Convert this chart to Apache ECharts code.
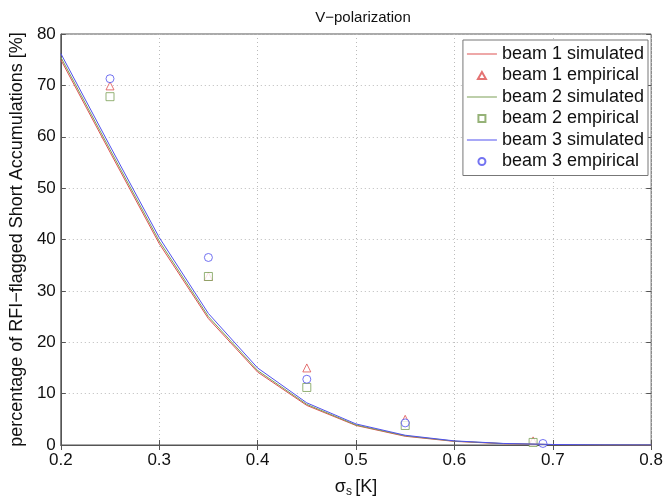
<!DOCTYPE html>
<html>
<head>
<meta charset="utf-8">
<script src="https://cdn.jsdelivr.net/npm/echarts@6/dist/echarts.min.js"></script>
<style>
  html, body { margin: 0; padding: 0; background: #fff; }
  #chart { width: 666px; height: 503px; }
</style>
</head>
<body>
<div id="chart"></div>
<script>
// simulated curves, sampled every 0.05 K
const sigma = [0.2, 0.25, 0.3, 0.35, 0.4, 0.45, 0.5, 0.55, 0.6, 0.65, 0.7, 0.75, 0.8];
const beam1Sim = [75.0, 57.0, 39.2, 24.6, 14.2, 7.7, 3.8, 1.7, 0.7, 0.25, 0.08, 0.02, 0];
const beam2Sim = [75.5, 57.5, 39.7, 25.0, 14.5, 7.9, 3.9, 1.8, 0.75, 0.28, 0.09, 0.03, 0.01];
const beam3Sim = [76.2, 58.2, 40.4, 25.6, 15.0, 8.2, 4.1, 1.9, 0.8, 0.3, 0.1, 0.03, 0.01];

// empirical points
const beam1EmpX = [0.25, 0.35, 0.45, 0.55, 0.68];
const beam1Emp = [69.9, 32.8, 15.0, 5.0, 0.8];
const beam2EmpX = [0.25, 0.35, 0.45, 0.55, 0.68];
const beam2Emp = [67.8, 32.8, 11.2, 3.8, 0.5];
const beam3EmpX = [0.25, 0.35, 0.45, 0.55, 0.69];
const beam3Emp = [71.3, 36.5, 12.8, 4.3, 0.3];

const names = ['beam 1 simulated', 'beam 1 empirical', 'beam 2 simulated',
               'beam 2 empirical', 'beam 3 simulated', 'beam 3 empirical'];

const red = '#dd5050';
const green = '#7a9f55';
const blue = '#5050ee';
const font = 'Liberation Sans';

// legend icons as paths so they keep their aspect ratio
const lineIcon = 'path://M0,0L30,0L30,1L0,1Z';
const triIcon = 'path://M4,0L8,7L0,7Z';
const rectIcon = 'path://M0,0L6,0L6,6L0,6Z';
const circIcon = 'path://M4,0A4,4,0,1,1,4,8A4,4,0,1,1,4,0Z';
const legendIcons = [lineIcon, triIcon, lineIcon, rectIcon, lineIcon, circIcon];

function pairs(xs, ys) {
  return xs.map((x, i) => [x, ys[i]]);
}

function simSeries(name, ys, color) {
  return {
    name: name, type: 'line', data: pairs(sigma, ys),
    symbol: 'none', lineStyle: { color: color, width: 1 },
    itemStyle: { color: color }, animation: false
  };
}

function empSeries(name, xs, ys, symbol, color) {
  return {
    name: name, type: 'scatter', data: pairs(xs, ys),
    symbol: symbol, symbolSize: 8,
    itemStyle: { color: '#fff', borderColor: color, borderWidth: 1 },
    animation: false
  };
}

const chart = echarts.init(document.getElementById('chart'));
chart.setOption({
  textStyle: { fontFamily: font },
  title: {
    text: 'V\u2212polarization', left: 358, top: 5, textAlign: 'center',
    textStyle: { fontFamily: font, fontSize: 15, fontWeight: 'normal', color: '#111' }
  },
  legend: {
    right: 18, top: 40, orient: 'vertical', align: 'left',
    itemWidth: 30, itemHeight: 7, itemGap: 3.5,
    symbolKeepAspect: true,
    padding: [5, 4, 5, 4],
    borderColor: '#777', borderWidth: 1, backgroundColor: '#fff',
    textStyle: { fontFamily: font, fontSize: 18, color: '#111' },
    data: names.map((n, i) => ({ name: n, icon: legendIcons[i] }))
  },
  grid: { left: 60, right: 14, top: 34, bottom: 54, show: true, borderColor: '#555', borderWidth: 1 },
  xAxis: [{
    type: 'value', min: 0.2, max: 0.8, interval: 0.1,
    name: '{s|\u03c3}{sub|s} {s|[K]}', nameLocation: 'middle', nameGap: 31,
    nameTextStyle: {
      rich: {
        s: { fontFamily: font, fontSize: 18, color: '#111' },
        sub: { fontFamily: font, fontSize: 12, color: '#111', verticalAlign: 'bottom', padding: [10, 0, 0, 0] }
      }
    },
    axisLine: { lineStyle: { color: '#555' } },
    axisTick: { inside: true, length: 5, lineStyle: { color: '#555' } },
    axisLabel: { fontFamily: font, fontSize: 17, color: '#111', margin: 7,
      formatter: v => v.toFixed(1) },
    splitLine: { show: true, lineStyle: { color: '#bbb', type: [1, 3] } }
  }, {
    type: 'value', position: 'top', min: 0.2, max: 0.8, interval: 0.1,
    axisLine: { show: false }, axisLabel: { show: false }, splitLine: { show: false },
    axisTick: { inside: true, length: 5, lineStyle: { color: '#555' } }
  }],
  yAxis: [{
    type: 'value', min: 0, max: 80, interval: 10,
    name: 'percentage of RFI\u2212flagged Short Accumulations [%]',
    nameLocation: 'middle', nameGap: 33,
    nameTextStyle: { fontFamily: font, fontSize: 18, color: '#111' },
    axisLine: { lineStyle: { color: '#555' } },
    axisTick: { inside: true, length: 5, lineStyle: { color: '#555' } },
    axisLabel: { fontFamily: font, fontSize: 17, color: '#111', margin: 5 },
    splitLine: { show: true, lineStyle: { color: '#bbb', type: [1, 3] } }
  }, {
    type: 'value', position: 'right', min: 0, max: 80, interval: 10,
    axisLine: { show: false }, axisLabel: { show: false }, splitLine: { show: false },
    axisTick: { inside: true, length: 5, lineStyle: { color: '#555' } }
  }],
  series: [
    simSeries(names[0], beam1Sim, red),
    empSeries(names[1], beam1EmpX, beam1Emp, 'triangle', red),
    simSeries(names[2], beam2Sim, green),
    empSeries(names[3], beam2EmpX, beam2Emp, 'rect', green),
    simSeries(names[4], beam3Sim, blue),
    empSeries(names[5], beam3EmpX, beam3Emp, 'circle', blue)
  ]
});
</script>
</body>
</html>
